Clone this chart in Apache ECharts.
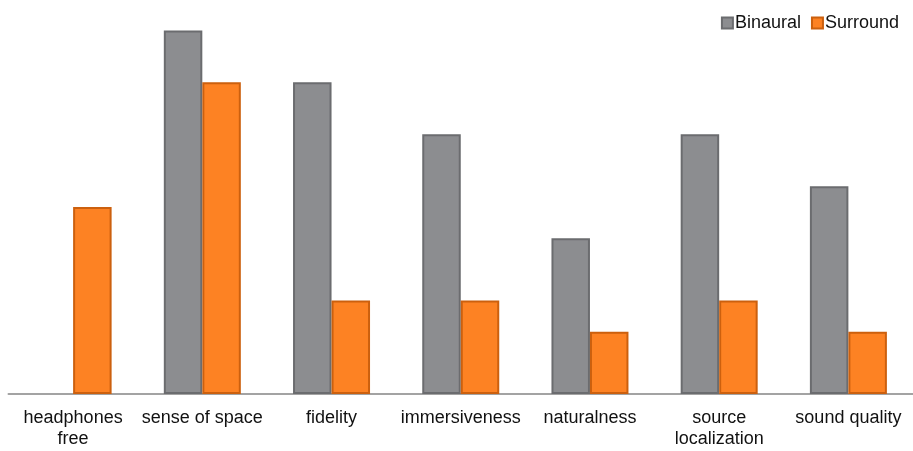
<!DOCTYPE html>
<html>
<head>
<meta charset="utf-8">
<script src="https://cdn.jsdelivr.net/npm/echarts@6/dist/echarts.min.js"></script>
<style>
  html, body { margin: 0; padding: 0; background: #fff; }
  #chart { width: 913px; height: 451px; }
</style>
</head>
<body>
<div id="chart"></div>
<script>
// Rating categories and responses per playback format
const categories = ['headphones\nfree', 'sense of space', 'fidelity', 'immersiveness', 'naturalness', 'source\nlocalization', 'sound quality'];
const binaural = [0, 35, 30, 25, 15, 25, 20];
const surround = [18, 30, 9, 9, 6, 9, 6];

// zero counts get no bar at all (not even a border sliver)
const asBars = arr => arr.map(v => (v === 0 ? '-' : v));

const chart = echarts.init(document.getElementById('chart'));
const font = 'Liberation Sans, Arial, sans-serif';

chart.setOption({
  animation: false,
  grid: { left: 8.5, right: -3, top: 20, bottom: 57, containLabel: false },
  legend: {
    right: 9, top: 9,
    itemWidth: 11, itemHeight: 11, itemGap: 10,
    icon: 'rect',
    textStyle: { fontFamily: font, fontSize: 18, color: '#111', padding: [0, 0, 0, -3] },
    data: ['Binaural', 'Surround']
  },
  xAxis: {
    type: 'category',
    data: categories,
    axisLine: { show: true, lineStyle: { color: '#a3a3a3', width: 2 } },
    axisTick: { show: false },
    axisLabel: { fontFamily: font, fontSize: 18, color: '#111', margin: 14, lineHeight: 21, interval: 0 }
  },
  yAxis: {
    type: 'value', min: 0, max: 36,
    show: false,
    splitLine: { show: false }
  },
  series: [
    {
      name: 'Binaural', type: 'bar', data: asBars(binaural),
      barWidth: 38.5, barGap: '0%',
      itemStyle: { color: '#8c8d90', borderColor: '#6b6c6f', borderWidth: 2 }
    },
    {
      name: 'Surround', type: 'bar', data: asBars(surround),
      barWidth: 38.5,
      itemStyle: { color: '#fd8223', borderColor: '#cc600e', borderWidth: 2 }
    }
  ]
});
</script>
</body>
</html>
